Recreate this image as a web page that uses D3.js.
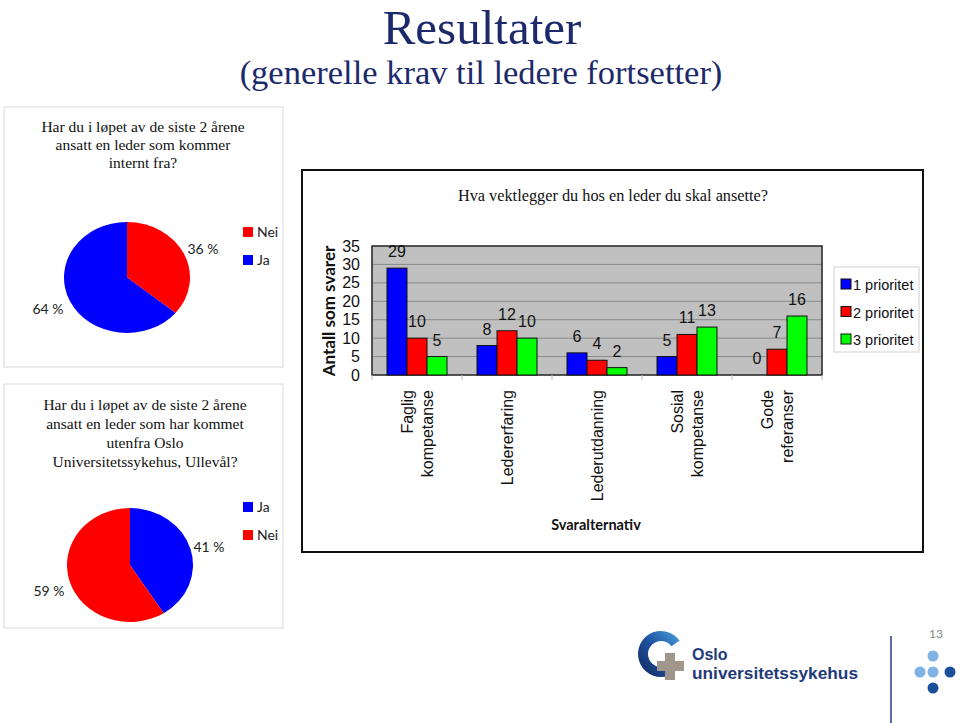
<!DOCTYPE html>
<html><head><meta charset="utf-8">
<script src="https://cdn.jsdelivr.net/npm/d3@7"></script>
<style>
html,body{margin:0;padding:0;background:#fff;}
svg{display:block;}
</style></head>
<body>
<svg id="c" width="960" height="723"></svg>
<script>
// ---- data ----
const categories = [["Faglig","kompetanse"],["Ledererfaring"],["Lederutdanning"],["Sosial","kompetanse"],["Gode","referanser"]];
const seriesNames = ["1 prioritet","2 prioritet","3 prioritet"];
const prio1 = [29, 8, 6, 5, 0];
const prio2 = [10, 12, 4, 11, 7];
const prio3 = [5, 10, 2, 13, 16];
const yTicks = [0,5,10,15,20,25,30,35];
const pie1Labels = ["Nei","Ja"];
const pie1Values = [36, 64];
const pie2Labels = ["Ja","Nei"];
const pie2Values = [41, 59];

const svg = d3.select("#c");
const navy = "#1c2a6b";
const serif = "'Liberation Serif','Times New Roman',serif";
const arial = "'Liberation Sans',Arial,sans-serif";
const calibri = "Lato,'Open Sans',sans-serif";

// ---- titles ----
svg.append("text").attr("x",482).attr("y",43.5).attr("text-anchor","middle")
  .attr("font-family",serif).attr("font-size",49).attr("fill",navy).text("Resultater");
svg.append("text").attr("x",481).attr("y",84).attr("text-anchor","middle")
  .attr("font-family",serif).attr("font-size",34.5).attr("fill",navy).text("(generelle krav til ledere fortsetter)");

// ---- left panels ----
svg.append("rect").attr("x",4).attr("y",107).attr("width",279).attr("height",260)
  .attr("fill","none").attr("stroke","#d9d9d9").attr("stroke-width",1);
svg.append("rect").attr("x",4).attr("y",384).attr("width",279).attr("height",244)
  .attr("fill","none").attr("stroke","#d9d9d9").attr("stroke-width",1);

const q1 = ["Har du i løpet av de siste 2 årene","ansatt en leder som kommer","internt fra?"];
const q2 = ["Har du i løpet av de siste 2 årene","ansatt en leder som har kommet","utenfra Oslo","Universitetssykehus, Ullevål?"];
q1.forEach((t,i)=>svg.append("text").attr("x",143).attr("y",132+i*18).attr("text-anchor","middle")
  .attr("font-family",serif).attr("font-size",15.5).attr("fill","#111").text(t));
q2.forEach((t,i)=>svg.append("text").attr("x",145).attr("y",410+i*19).attr("text-anchor","middle")
  .attr("font-family",serif).attr("font-size",15.5).attr("fill","#111").text(t));

const pieColor = {"Nei":"#ff0000","Ja":"#0000ff"};
function drawPie(labels, values, cx, cy, rx, ry, labelPos, legendY){
  const g = svg.append("g").attr("transform",`translate(${cx},${cy}) scale(1,${ry/rx})`);
  const arcs = d3.pie().sort(null).value(d=>d)(values);
  const arc = d3.arc().innerRadius(0).outerRadius(rx);
  g.selectAll("path").data(arcs).join("path").attr("d",arc)
    .attr("fill",(d,i)=>pieColor[labels[i]]);
  arcs.forEach((a,i)=>{
    svg.append("text").attr("x",labelPos[i][0]).attr("y",labelPos[i][1]).attr("text-anchor","middle")
      .attr("font-family",calibri).attr("font-size",14).attr("fill","#222").text(values[i]+" %");
  });
  labels.forEach((l,i)=>{
    svg.append("rect").attr("x",243).attr("y",legendY+i*28-5).attr("width",10).attr("height",10).attr("fill",pieColor[l]);
    svg.append("text").attr("x",257).attr("y",legendY+i*28+5).attr("font-family",calibri).attr("font-size",14).attr("fill","#222").text(l);
  });
}
drawPie(pie1Labels, pie1Values, 127, 277.5, 63, 55.5, [[203,254],[48,314]], 232);
drawPie(pie2Labels, pie2Values, 130, 565, 63, 57, [[209,552],[49,596]], 507);

// ---- bar chart box ----
svg.append("rect").attr("x",302).attr("y",170).attr("width",621).attr("height",382)
  .attr("fill","#fff").attr("stroke","#111").attr("stroke-width",2);
svg.append("text").attr("x",613).attr("y",201).attr("text-anchor","middle")
  .attr("font-family",serif).attr("font-size",16.3).attr("fill","#111")
  .text("Hva vektlegger du hos en leder du skal ansette?");

const pl = 372, pr = 822, pt = 246, pb = 375;
const x0 = d3.scaleBand().domain(d3.range(categories.length)).range([pl,pr]).padding(0);
const x1 = d3.scaleBand().domain(d3.range(3)).range([0,x0.bandwidth()]).paddingInner(0).paddingOuter(0.75);
const y = d3.scaleLinear().domain([0,35]).range([pb,pt]);

svg.append("rect").attr("x",pl).attr("y",pt).attr("width",pr-pl).attr("height",pb-pt).attr("fill","#c0c0c0");
svg.append("g").selectAll("line").data(yTicks.filter(v=>v>0 && v<35)).join("line")
  .attr("x1",pl).attr("x2",pr).attr("y1",d=>y(d)).attr("y2",d=>y(d))
  .attr("stroke","#8a8a8a").attr("stroke-width",1);
svg.append("rect").attr("x",pl).attr("y",pt).attr("width",pr-pl).attr("height",pb-pt)
  .attr("fill","none").attr("stroke","#222").attr("stroke-width",1.5);

// y axis labels
const yAxis = d3.axisLeft(y).tickValues(yTicks).tickSize(0).tickPadding(12);
const ya = svg.append("g").attr("transform",`translate(${pl},0)`).call(yAxis);
ya.select(".domain").remove();
ya.selectAll("text").attr("font-family",arial).attr("font-size",16).attr("fill","#111");

// x category ticks
svg.append("g").selectAll("line").data(d3.range(categories.length+1)).join("line")
  .attr("x1",i=>pl+i*x0.step()).attr("x2",i=>pl+i*x0.step()).attr("y1",pb).attr("y2",pb+5)
  .attr("stroke","#bbb").attr("stroke-width",1);

const series = [prio1, prio2, prio3];
const colors = ["#0000ff","#ff0000","#00ff00"];
series.forEach((s,si)=>{
  const g = svg.append("g");
  g.selectAll("rect").data(s).join("rect")
    .attr("x",(d,i)=>x0(i)+x1(si)).attr("width",x1.bandwidth())
    .attr("y",d=>y(d)).attr("height",d=>pb-y(d))
    .attr("fill",colors[si]).attr("stroke","#111").attr("stroke-width",1);
  g.selectAll("text").data(s).join("text")
    .attr("x",(d,i)=>x0(i)+x1(si)+x1.bandwidth()/2).attr("y",d=>y(d)-11)
    .attr("text-anchor","middle").attr("font-family",arial).attr("font-size",16).attr("fill","#111")
    .text(d=>d);
});

// category labels (rotated)
categories.forEach((lines,i)=>{
  const cx = x0(i)+x0.bandwidth()/2;
  const n = lines.length;
  lines.forEach((t,j)=>{
    const lx = cx + (j-(n-1)/2)*19.5 + 6;
    svg.append("text").attr("transform",`translate(${lx},390) rotate(-90)`)
      .attr("text-anchor","end").attr("font-family",arial).attr("font-size",16).attr("fill","#111").text(t);
  });
});

// axis titles
svg.append("text").attr("transform","translate(335,311) rotate(-90)").attr("text-anchor","middle")
  .attr("font-family",calibri).attr("font-weight","bold").attr("font-size",17).attr("fill","#111").text("Antall som svarer");
svg.append("text").attr("x",596).attr("y",530).attr("text-anchor","middle")
  .attr("font-family",calibri).attr("font-weight","bold").attr("font-size",14.5).attr("fill","#111").text("Svaralternativ");

// legend
svg.append("rect").attr("x",834).attr("y",267).attr("width",85).attr("height",85)
  .attr("fill","#fff").attr("stroke","#d0d0d0").attr("stroke-width",1);
seriesNames.forEach((n,i)=>{
  const ly = 284 + i*27.5;
  svg.append("rect").attr("x",841).attr("y",ly-5).attr("width",10).attr("height",10)
    .attr("fill",colors[i]).attr("stroke","#111").attr("stroke-width",1);
  svg.append("text").attr("x",853).attr("y",ly+6).attr("font-family",arial).attr("font-size",14.5).attr("fill","#111").text(n);
});

// ---- footer ----
svg.append("text").attr("x",936).attr("y",638).attr("text-anchor","middle")
  .attr("font-family",calibri).attr("font-size",12).attr("fill","#888").text("13");
svg.append("line").attr("x1",891).attr("x2",891).attr("y1",636).attr("y2",723)
  .attr("stroke","#5b6ba3").attr("stroke-width",2);
const dots = [[933,656,"#7fb2e5"],[920,672,"#7fb2e5"],[933,672,"#7fb2e5"],[950,672,"#1b4f9c"],[933,688,"#1b4f9c"]];
dots.forEach(d=>svg.append("circle").attr("cx",d[0]).attr("cy",d[1]).attr("r",5.5).attr("fill",d[2]));

const defs = svg.append("defs");
const grad = defs.append("linearGradient").attr("id","lg").attr("x1","1").attr("y1","0").attr("x2","0").attr("y2","1");
grad.append("stop").attr("offset","0").attr("stop-color","#4aa3df");
grad.append("stop").attr("offset","0.5").attr("stop-color","#1d4f9c");
grad.append("stop").attr("offset","1").attr("stop-color","#14285e");
svg.append("path").attr("transform","translate(661,654)")
  .attr("d",d3.arc().innerRadius(13).outerRadius(23).startAngle(-Math.PI*1.12).endAngle(Math.PI*0.3)())
  .attr("fill","url(#lg)");
const cross = svg.append("g").attr("fill","#a0978a");
cross.append("rect").attr("x",665).attr("y",653).attr("width",10).attr("height",27);
cross.append("rect").attr("x",657).attr("y",661).attr("width",27).attr("height",10);
svg.append("text").attr("x",692).attr("y",660).attr("font-family",arial).attr("font-weight","bold")
  .attr("font-size",16).attr("fill","#1f3a7a").text("Oslo");
svg.append("text").attr("x",692).attr("y",679).attr("font-family",arial).attr("font-weight","bold")
  .attr("font-size",16).attr("fill","#1f3a7a").attr("textLength",166).attr("lengthAdjust","spacingAndGlyphs")
  .text("universitetssykehus");
</script>
</body></html>
